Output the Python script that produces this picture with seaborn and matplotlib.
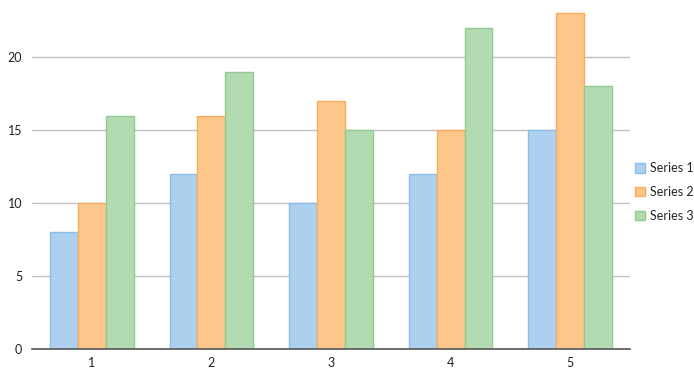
import matplotlib.pyplot as plt
import pandas as pd
import seaborn as sns
from matplotlib.patches import Patch

categories = ['1', '2', '3', '4', '5']
series_1 = [8, 12, 10, 12, 15]
series_2 = [10, 16, 17, 15, 23]
series_3 = [16, 19, 15, 22, 18]
series_names = ['Series 1', 'Series 2', 'Series 3']

fills = ['#acd0ee', '#fdc68a', '#b2dbb2']
edges = ['#8cbde8', '#f8ad5c', '#92cb92']

df = pd.DataFrame({
    'cat': categories * 3,
    'value': series_1 + series_2 + series_3,
    'series': [s for s in series_names for _ in categories],
})

sns.set_style('white')
plt.rcParams['font.family'] = ['Lato', 'DejaVu Sans']

fig = plt.figure(figsize=(6.94, 3.75), dpi=100)
ax = fig.add_axes([32 / 694, 26 / 375, 598 / 694, 348 / 375])

sns.barplot(data=df, x='cat', y='value', hue='series', palette=fills,
            width=0.7, ax=ax, legend=False, saturation=1)
for cont, ec in zip(ax.containers, edges):
    for bar in cont:
        bar.set_edgecolor(ec)
        bar.set_linewidth(1)

ax.set_ylim(0, 23.85)
ax.set_xlim(-0.5, 4.5)
ax.set_yticks([0, 5, 10, 15, 20])
ax.yaxis.grid(True, color='#c0c0c0', linewidth=1)
ax.set_axisbelow(True)
ax.set_xlabel('')
ax.set_ylabel('')
for s in ['top', 'right', 'left']:
    ax.spines[s].set_visible(False)
ax.spines['bottom'].set_color('#555555')
ax.spines['bottom'].set_linewidth(1.2)
ax.tick_params(axis='x', length=4, color='#555555', labelsize=9, pad=2, labelcolor='#222222')
ax.tick_params(axis='y', length=0, labelsize=9, pad=7, labelcolor='#222222')

handles = [Patch(facecolor=f, edgecolor=e, label=n) for f, e, n in zip(fills, edges, series_names)]
fig.legend(handles=handles, loc='center left', bbox_to_anchor=(635 / 694, 1 - 192 / 375),
           frameon=False, fontsize=9, handlelength=0.8, handleheight=0.8,
           handletextpad=0.4, labelspacing=0.95, borderaxespad=0, borderpad=0)

fig.savefig('out.png', dpi=100)
